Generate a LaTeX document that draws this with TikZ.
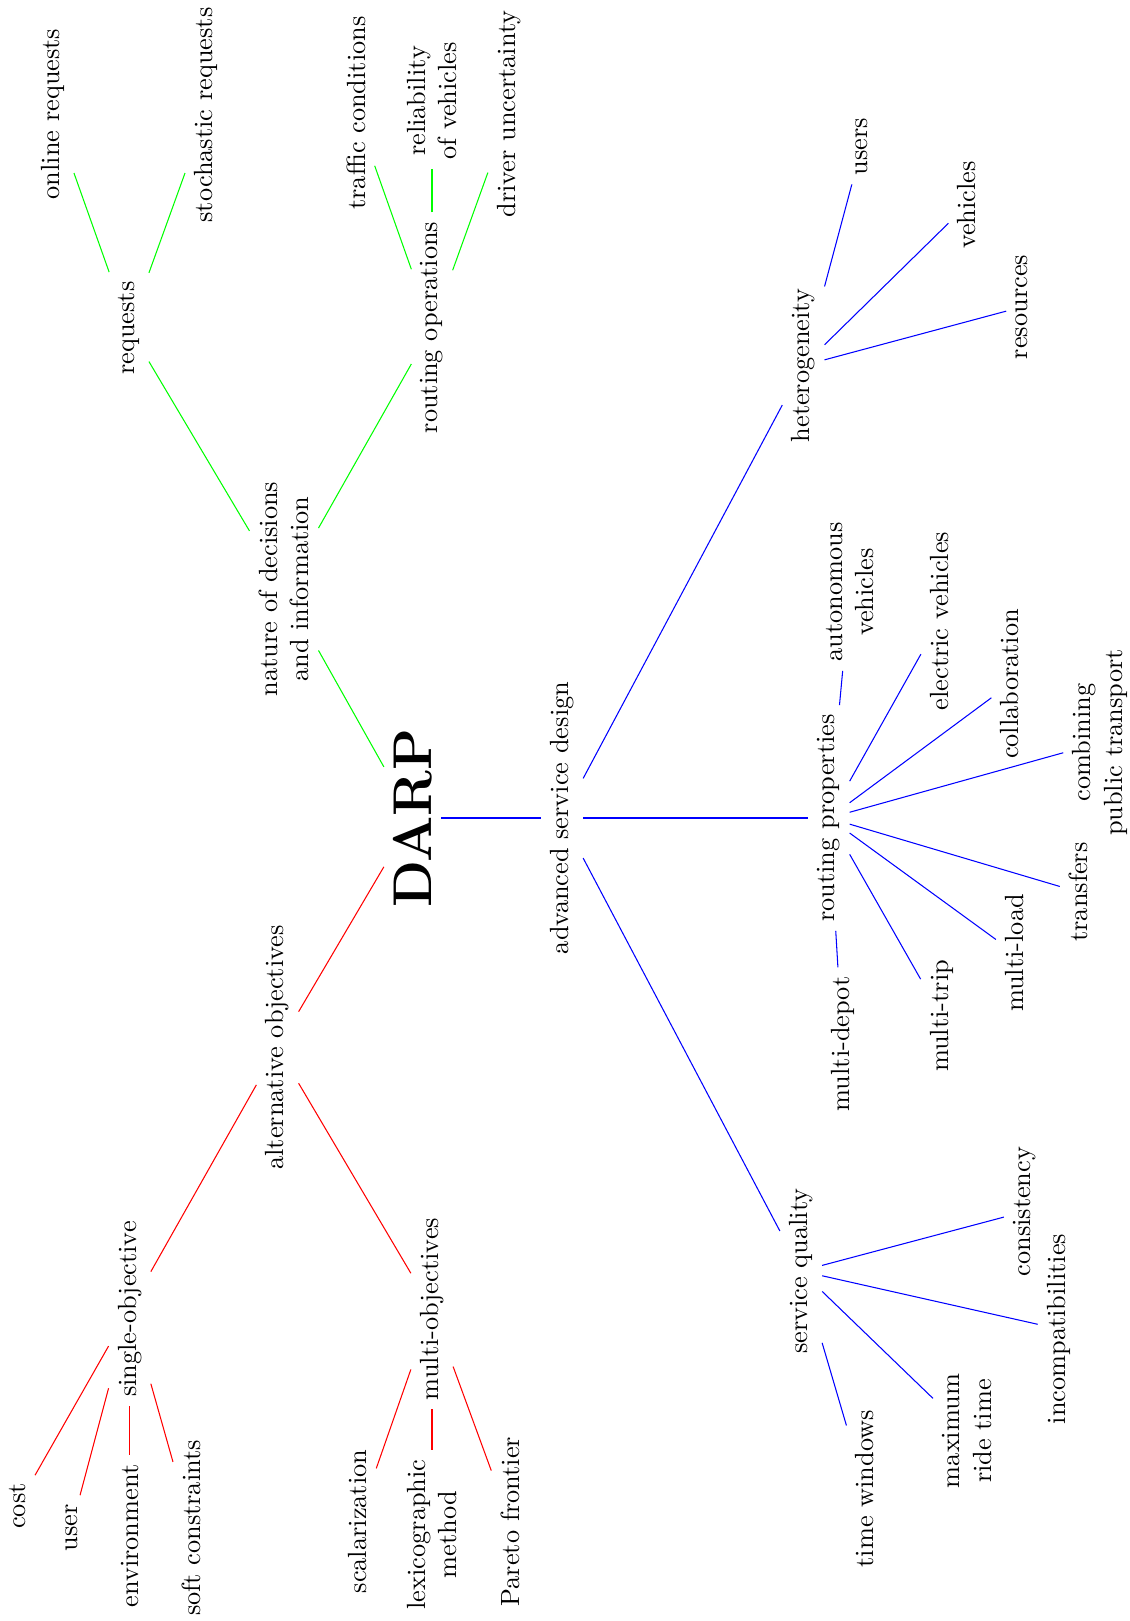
\documentclass[tikz,border=0pt]{standalone}
\begin{document}
\begin{tikzpicture}[x=0.38pt, y=-0.38pt,
  lbl/.style={rotate=90, align=center, font=\normalsize},
  gl/.style={draw=green},
  rl/.style={draw=red},
  bl/.style={draw=blue}]
\useasboundingbox (0,0) rectangle (1130,1621);
% root
\node[lbl, font=\huge\bfseries] (darp) at (412.6,818) {DARP};
% green branch
\node[lbl] (nat) at (284,589) {nature of decisions\\and information};
\node[lbl] (req) at (129,328) {requests};
\node[lbl] (ronline) at (53,114) {online requests};
\node[lbl] (rstoch) at (206,115) {stochastic requests};
\node[lbl] (rop) at (432,327.5) {routing operations};
\node[lbl] (traffic) at (356,113) {traffic conditions};
\node[lbl] (reliab) at (432,101) {reliability\\of vehicles};
\node[lbl] (driver) at (509,114) {driver uncertainty};
% red branch
\node[lbl] (alt) at (277.5,1047.5) {alternative objectives};
\node[lbl] (single) at (129.7,1309) {single-objective};
\node[lbl] (multi) at (432,1309) {multi-objectives};
\node[lbl] (cost) at (17.5,1506) {cost};
\node[lbl] (user) at (71.3,1528) {user};
\node[lbl] (env) at (129.7,1536) {environment};
\node[lbl] (soft) at (191.7,1528) {soft constraints};
\node[lbl] (scal) at (357.7,1521.5) {scalarization};
\node[lbl] (lex) at (432,1534.5) {lexicographic\\method};
\node[lbl] (pareto) at (510,1521.6) {Pareto frontier};
% blue branch
\node[lbl] (asd) at (562,818) {advanced service design};
\node[lbl] (het) at (803.4,365.5) {heterogeneity};
\node[lbl] (users) at (862,146.4) {users};
\node[lbl] (veh) at (967,205) {vehicles};
\node[lbl] (res) at (1021.6,307) {resources};
\node[lbl] (rp) at (829,818) {routing properties};
\node[lbl] (auto) at (850,592) {autonomous\\vehicles};
\node[lbl] (elec) at (939.5,621) {electric vehicles};
\node[lbl] (collab) at (1010,684) {collaboration};
\node[lbl] (comb) at (1100,742.5) {combining\\public transport};
\node[lbl] (transf) at (1078.5,892) {transfers};
\node[lbl] (mload) at (1014.5,953) {multi-load};
\node[lbl] (mtrip) at (941.6,1016) {multi-trip};
\node[lbl] (mdepot) at (842.5,1044) {multi-depot};
\node[lbl] (sq) at (801,1271) {service quality};
\node[lbl] (cons) at (1024.5,1211.6) {consistency};
\node[lbl] (incomp) at (1058.7,1329) {incompatibilities};
\node[lbl] (maxr) at (966.8,1431) {maximum\\ride time};
\node[lbl] (tw) at (865,1488.6) {time windows};
% green edges
\draw[gl] (darp) -- (nat);
\draw[gl] (nat) -- (req);
\draw[gl] (nat) -- (rop);
\draw[gl] (req) -- (ronline);
\draw[gl] (req) -- (rstoch);
\draw[gl] (rop) -- (traffic);
\draw[gl] (rop) -- (reliab);
\draw[gl] (rop) -- (driver);
% red edges
\draw[rl] (darp) -- (alt);
\draw[rl] (alt) -- (single);
\draw[rl] (alt) -- (multi);
\draw[rl] (single) -- (cost);
\draw[rl] (single) -- (user);
\draw[rl] (single) -- (env);
\draw[rl] (single) -- (soft);
\draw[rl] (multi) -- (scal);
\draw[rl] (multi) -- (lex);
\draw[rl] (multi) -- (pareto);
% blue edges
\draw[bl] (darp) -- (asd);
\draw[bl] (asd) -- (het);
\draw[bl] (asd) -- (rp);
\draw[bl] (asd) -- (sq);
\draw[bl] (het) -- (users);
\draw[bl] (het) -- (veh);
\draw[bl] (het) -- (res);
\draw[bl] (rp) -- (auto);
\draw[bl] (rp) -- (elec);
\draw[bl] (rp) -- (collab);
\draw[bl] (rp) -- (comb);
\draw[bl] (rp) -- (transf);
\draw[bl] (rp) -- (mload);
\draw[bl] (rp) -- (mtrip);
\draw[bl] (rp) -- (mdepot);
\draw[bl] (sq) -- (cons);
\draw[bl] (sq) -- (incomp);
\draw[bl] (sq) -- (maxr);
\draw[bl] (sq) -- (tw);
\end{tikzpicture}
\end{document}
